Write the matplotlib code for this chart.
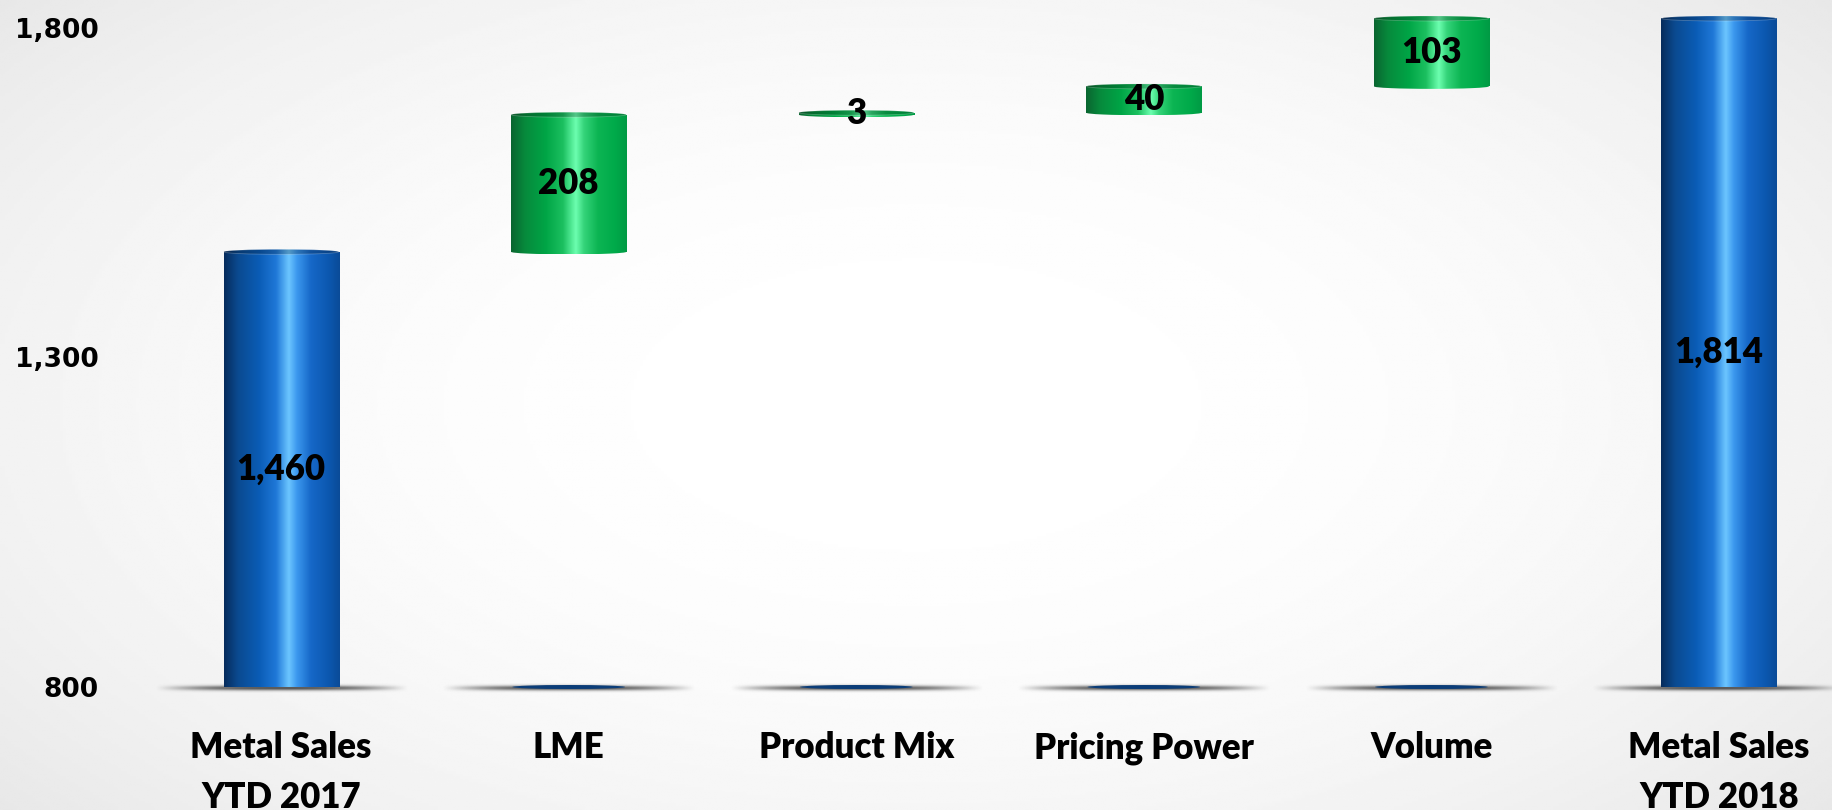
import numpy as np
import matplotlib
matplotlib.use("Agg")
import matplotlib.pyplot as plt
from matplotlib.colors import LinearSegmentedColormap
from matplotlib.patches import Ellipse

# ---- data -------------------------------------------------------------
categories = ["Metal Sales\nYTD 2017", "LME", "Product Mix",
              "Pricing Power", "Volume", "Metal Sales\nYTD 2018"]
start_total = 1460
changes = [208, 3, 40, 103]
end_total = 1814
value_labels = ["1,460", "208", "3", "40", "103", "1,814"]
y_ticks = [800, 1300, 1800]
y_tick_labels = ["800", "1,300", "1,800"]
y_floor = 800
y_top = 1842

# ---- figure -----------------------------------------------------------
W, H, DPI = 1832, 810, 100
fig = plt.figure(figsize=(W / DPI, H / DPI), dpi=DPI)

# soft vignette background
bg = fig.add_axes([0, 0, 1, 1])
bg.axis("off")
yy, xx = np.mgrid[0:1:300j, 0:1:600j]
r = np.sqrt(((xx - 0.5) / 0.62) ** 2 + ((yy - 0.5) / 0.72) ** 2)
shade = 1 - 0.08 * np.clip(r, 0, 1.3) ** 2.2
bg.imshow(shade, cmap="gray", vmin=0, vmax=1, extent=[0, 1, 0, 1],
          aspect="auto", origin="upper")
bg.set_xlim(0, 1)
bg.set_ylim(0, 1)

ax_left = 110 / W
ax_bottom = (H - 687) / H
ax = fig.add_axes([ax_left, ax_bottom, 1 - ax_left, 1 - ax_bottom])
ax.set_facecolor("none")

blue_cmap = LinearSegmentedColormap.from_list("cyl_blue", [
    (0.00, "#062c5c"), (0.12, "#0b4a90"), (0.30, "#0a5cb5"),
    (0.45, "#1f78d8"), (0.56, "#6cc6ff"), (0.63, "#3b98ee"),
    (0.75, "#1668c8"), (0.90, "#0c58b0"), (1.00, "#0a4b98")])
green_cmap = LinearSegmentedColormap.from_list("cyl_green", [
    (0.00, "#0a6530"), (0.12, "#078a3c"), (0.30, "#00a546"),
    (0.45, "#1cc060"), (0.56, "#6dffb0"), (0.63, "#35d47a"),
    (0.75, "#0cb553"), (0.90, "#00aa4a"), (1.00, "#009a44")])

x = np.arange(len(categories))
bar_w = 0.40
px_per_unit = 687 / (y_top - y_floor)
cap_h = 5 / px_per_unit

# waterfall geometry
running = np.cumsum([start_total] + changes[:-1])
bottoms = [y_floor] + list(running) + [y_floor]
heights = [start_total - y_floor] + changes + [end_total - y_floor]
kinds = ["total"] + ["delta"] * len(changes) + ["total"]

bars = ax.bar(x, heights, bottom=bottoms, width=bar_w,
              facecolor="none", edgecolor="none", zorder=3)

grad = np.linspace(0, 1, 256).reshape(1, -1)


def gradient_fill(patch, cmap, zorder):
    if isinstance(patch, Ellipse):
        cx, cy = patch.center
        w, h = patch.width, patch.height
        extent = [cx - w / 2, cx + w / 2, cy - h / 2, cy + h / 2]
    else:
        extent = [patch.get_x(), patch.get_x() + patch.get_width(),
                  patch.get_y(), patch.get_y() + patch.get_height()]
    im = ax.imshow(grad, cmap=cmap, extent=extent, aspect="auto",
                   zorder=zorder, vmin=0, vmax=1, interpolation="bilinear")
    im.set_clip_path(patch)
    return im


def ground_shadow(xc):
    n = 240
    u = np.linspace(-1, 1, n)
    v = np.linspace(-1, 1, 40)
    U, V = np.meshgrid(u, v)
    alpha = 0.95 * np.clip(1 - np.abs(U) ** 2.5, 0, 1) ** 1.2 * np.exp(-(V / 0.5) ** 2)
    img = np.zeros((40, n, 4))
    img[..., :3] = 0.28
    img[..., 3] = alpha
    half_w = 0.44
    im = ax.imshow(img, extent=[xc - half_w, xc + half_w,
                                y_floor - 9, y_floor + 5],
                   aspect="auto", zorder=1, interpolation="bilinear")
    im.set_clip_on(False)


for xi, p, kind in zip(x, bars, kinds):
    cmap = blue_cmap if kind == "total" else green_cmap
    xc = p.get_x() + p.get_width() / 2
    y0 = p.get_y()
    y1 = y0 + p.get_height()

    ground_shadow(xc)

    # bottom rim of the cylinder
    bot = Ellipse((xc, y0), bar_w, cap_h, facecolor="none", edgecolor="none")
    ax.add_patch(bot)
    gradient_fill(bot, cmap, 2)

    # body
    gradient_fill(p, cmap, 3)

    # top cap
    top = Ellipse((xc, y1), bar_w, cap_h, facecolor="none",
                  edgecolor="none", zorder=5)
    ax.add_patch(top)
    gradient_fill(top, cmap, 4)
    ax.add_patch(Ellipse((xc, y1), bar_w, cap_h, facecolor=(0, 0, 0, 0.22),
                         edgecolor=(1, 1, 1, 0.25), linewidth=0.6,
                         zorder=4.5))

    # empty base rim under floating bars
    if kind == "delta":
        ax.add_patch(Ellipse((xc, y_floor), bar_w * 0.98, 4 / px_per_unit,
                             facecolor="#0b3d78", edgecolor="none", zorder=2,
                             clip_on=False))

# value labels
for xi, p, lab in zip(x, bars, value_labels):
    y0 = p.get_y()
    y1 = y0 + p.get_height()
    ym = (y0 + y1) / 2
    ax.text(xi, ym, lab, ha="center", va="center", fontsize=25,
            fontweight="heavy", family="Lato", color="black", zorder=10)

ax.set_xlim(-0.595, 5.393)
ax.set_ylim(y_floor, y_top)
ax.set_yticks(y_ticks)
ax.set_yticklabels(y_tick_labels, fontsize=19, fontweight="bold",
                   family="DejaVu Sans")
ax.set_xticks(x)
ax.set_xticklabels(categories, fontsize=25, fontweight="heavy", family="Lato",
                   linespacing=1.6)
ax.tick_params(axis="both", length=0)
ax.tick_params(axis="y", pad=8)
ax.tick_params(axis="x", pad=32)
for s in ax.spines.values():
    s.set_visible(False)

fig.savefig("out.png", dpi=DPI)
